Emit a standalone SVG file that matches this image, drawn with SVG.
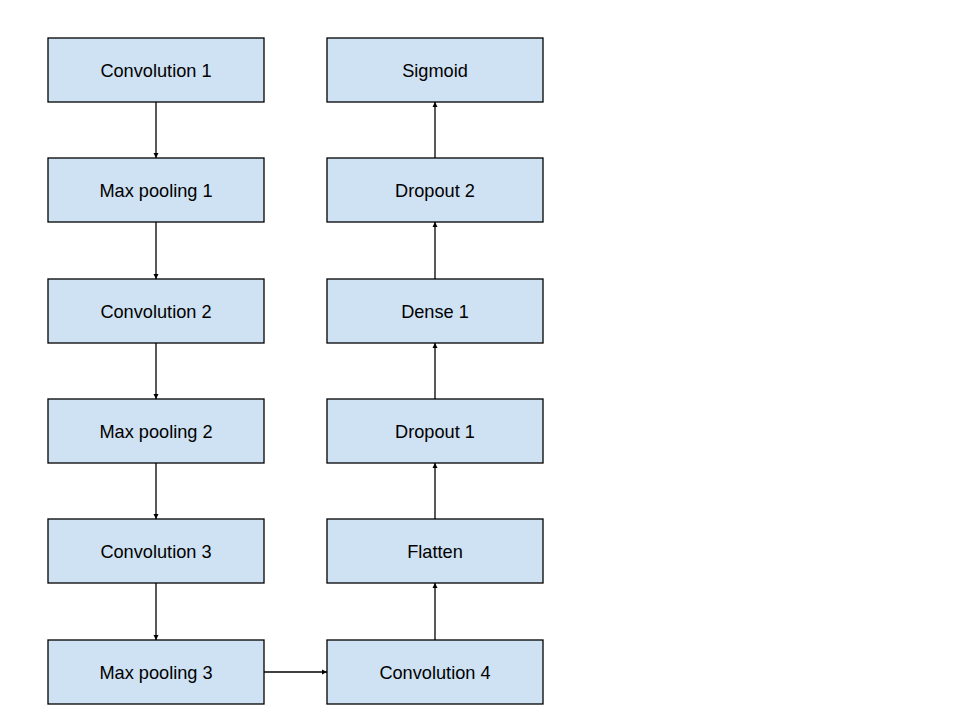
<svg xmlns="http://www.w3.org/2000/svg" width="960" height="720" viewBox="0 0 960 720">
<style>
.n{fill:#cfe2f3;stroke:#000;stroke-width:1.3}
.t{font-family:"Liberation Sans",Arial,sans-serif;font-size:18.2px;fill:#000;text-anchor:middle;dominant-baseline:central}
.c{stroke:#000;stroke-width:1.3;fill:none;marker-end:url(#a)}
</style>
<defs><marker id="a" markerWidth="6" markerHeight="6" refX="5" refY="3" orient="auto" markerUnits="userSpaceOnUse"><path d="M0,0.5L5,3L0,5.5z" fill="#000"/></marker></defs>
<rect width="960" height="720" fill="#fff"/>
<g id="connectors">
<line class="c" x1="156" y1="102" x2="156" y2="158"/>
<line class="c" x1="156" y1="222" x2="156" y2="279"/>
<line class="c" x1="156" y1="343" x2="156" y2="399"/>
<line class="c" x1="156" y1="463" x2="156" y2="519"/>
<line class="c" x1="156" y1="583" x2="156" y2="640"/>
<line class="c" x1="264" y1="672" x2="327" y2="672"/>
<line class="c" x1="435" y1="640" x2="435" y2="583"/>
<line class="c" x1="435" y1="519" x2="435" y2="463"/>
<line class="c" x1="435" y1="399" x2="435" y2="343"/>
<line class="c" x1="435" y1="279" x2="435" y2="222"/>
<line class="c" x1="435" y1="158" x2="435" y2="102"/>
</g>
<g id="conv1"><rect class="n" x="48" y="38" width="216" height="64"/><text class="t" x="156" y="71">Convolution 1</text></g>
<g id="pool1"><rect class="n" x="48" y="158" width="216" height="64"/><text class="t" x="156" y="191">Max pooling 1</text></g>
<g id="conv2"><rect class="n" x="48" y="279" width="216" height="64"/><text class="t" x="156" y="312">Convolution 2</text></g>
<g id="pool2"><rect class="n" x="48" y="399" width="216" height="64"/><text class="t" x="156" y="432">Max pooling 2</text></g>
<g id="conv3"><rect class="n" x="48" y="519" width="216" height="64"/><text class="t" x="156" y="552">Convolution 3</text></g>
<g id="pool3"><rect class="n" x="48" y="640" width="216" height="64"/><text class="t" x="156" y="673">Max pooling 3</text></g>
<g id="conv4"><rect class="n" x="327" y="640" width="216" height="64"/><text class="t" x="435" y="673">Convolution 4</text></g>
<g id="flatten"><rect class="n" x="327" y="519" width="216" height="64"/><text class="t" x="435" y="552">Flatten</text></g>
<g id="drop1"><rect class="n" x="327" y="399" width="216" height="64"/><text class="t" x="435" y="432">Dropout 1</text></g>
<g id="dense1"><rect class="n" x="327" y="279" width="216" height="64"/><text class="t" x="435" y="312">Dense 1</text></g>
<g id="drop2"><rect class="n" x="327" y="158" width="216" height="64"/><text class="t" x="435" y="191">Dropout 2</text></g>
<g id="sigmoid"><rect class="n" x="327" y="38" width="216" height="64"/><text class="t" x="435" y="71">Sigmoid</text></g>
</svg>
